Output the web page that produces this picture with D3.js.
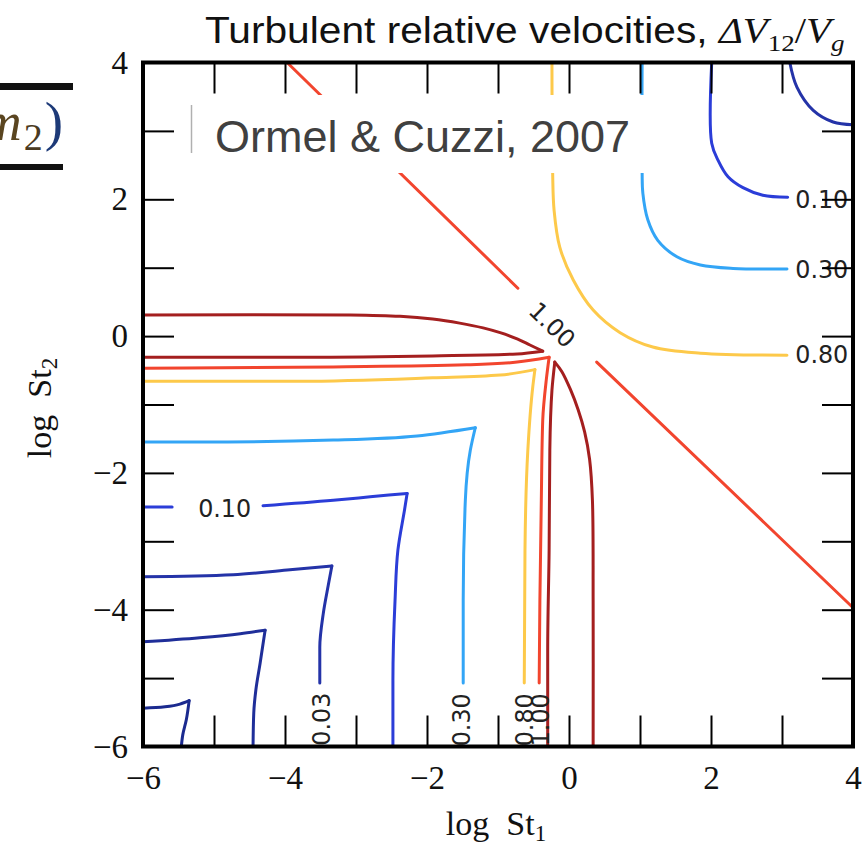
<!DOCTYPE html>
<html>
<head>
<meta charset="utf-8">
<script src="https://cdn.jsdelivr.net/npm/d3@7"></script>
<style>
  body { margin: 0; background: #fff; }
  svg { display: block; }
</style>
</head>
<body>
<script>
// ---- contour levels (dark red one is unlabeled in the figure) ----
const levels = [0.003, 0.01, 0.03, 0.10, 0.30, 0.80, 1.00, 1.20];

// ---- lower-left nested contours: horizontal arm and vertical arm, [log St1, log St2] ----
const c0003_h = [[-6.00, -5.44], [-5.69, -5.42], [-5.48, -5.38], [-5.35, -5.33]];
const c0003_v = [[-5.35, -5.33], [-5.39, -5.61], [-5.44, -5.83], [-5.46, -6.00]];
const c001_h = [[-6.00, -4.47], [-5.20, -4.41], [-4.63, -4.35], [-4.28, -4.30]];
const c001_v = [[-4.28, -4.30], [-4.35, -4.78], [-4.41, -5.17], [-4.44, -5.51], [-4.45, -6.00]];
const c003_h = [[-6.00, -3.52], [-4.73, -3.49], [-3.97, -3.42], [-3.34, -3.36]];
const c003_v = [[-3.34, -3.36], [-3.39, -3.64], [-3.46, -4.05], [-3.51, -4.55], [-3.51, -5.07]];
const c010_h = [[-6.00, -2.50], [-5.59, -2.50], null, [-4.31, -2.48], [-3.32, -2.40], [-2.80, -2.35], [-2.28, -2.30]];
const c010_v = [[-2.28, -2.30], [-2.31, -2.50], [-2.41, -3.13], [-2.45, -3.86], [-2.48, -5.03], [-2.48, -6.00]];
const c030_h = [[-6.00, -1.55], [-5.20, -1.55], [-3.32, -1.52], [-2.14, -1.46], [-1.32, -1.34]];
const c030_v = [[-1.32, -1.34], [-1.39, -1.67], [-1.46, -2.40], [-1.49, -3.86], [-1.49, -5.07]];
const c080_h = [[-6.00, -0.66], [-3.79, -0.66], [-1.92, -0.61], [-0.97, -0.57], [-0.48, -0.49]];
const c080_v = [[-0.48, -0.49], [-0.51, -0.74], [-0.58, -1.67], [-0.62, -3.13], [-0.63, -5.07]];
const c100_h = [[-6.00, -0.47], [-3.32, -0.45], [-1.44, -0.42], [-0.73, -0.38], [-0.28, -0.31]];
const c100_v = [[-0.28, -0.31], [-0.32, -0.64], [-0.37, -1.23], [-0.39, -2.40], [-0.41, -3.86], [-0.42, -5.07]];

// dark red lens shapes near St ~ 1
const c120_top = [[-6.00, 0.31], [-3.08, 0.31], [-2.38, 0.29], [-1.92, 0.25], [-1.54, 0.19], [-1.21, 0.12], [-0.97, 0.05], [-0.73, -0.04], [-0.55, -0.13], [-0.37, -0.22]];
const c120_bot = [[-6.00, -0.31], [-3.79, -0.31], [-1.92, -0.29], [-0.73, -0.26], [-0.37, -0.22]];
const c120_left = [[-0.20, -0.38], [-0.24, -0.79], [-0.27, -1.67], [-0.28, -3.13], [-0.30, -4.59], [-0.30, -6.00]];
const c120_right = [[-0.20, -0.38], [-0.10, -0.52], [0.02, -0.78], [0.13, -1.08], [0.22, -1.40], [0.29, -1.80], [0.33, -2.40], [0.34, -3.86], [0.34, -6.00]];

// diagonal 1.00 contour (split around its label)
const c100_diagA = [[-3.97, 4.00], [-0.72, 0.70]];
const c100_diagB = [[0.39, -0.38], [3.99, -3.96]];

// upper-right contours
const c003_ur = [[3.11, 4.00], [3.21, 3.64], [3.44, 3.30], [3.72, 3.13], [4.00, 3.09]];
const c010_ur = [[2.01, 4.00], [2.01, 2.82], [2.10, 2.57], [2.24, 2.33], [2.45, 2.17], [2.73, 2.06], [3.08, 2.03]];
const c030_ur = [[1.03, 4.00], [1.03, 2.40], [1.04, 2.09], [1.11, 1.70], [1.25, 1.40], [1.52, 1.16], [1.85, 1.04], [2.31, 0.99], [3.07, 0.98]];
const c080_ur = [[-0.24, 4.00], [-0.23, 2.38], [-0.21, 1.84], [-0.13, 1.30], [0.06, 0.82], [0.34, 0.38], [0.72, 0.05], [1.18, -0.16], [1.85, -0.25], [3.07, -0.28]];

// inline contour labels: text, log St1, log St2, angle
const labelTexts = ["0.10", "0.03", "0.30", "0.80", "1.00", "1.00", "0.10", "0.30", "0.80"];
const labelX = [-4.85, -3.48, -1.51, -0.62, -0.40, -0.24, 3.56, 3.56, 3.56];
const labelY = [-2.53, -5.60, -5.61, -5.61, -5.61, 0.16, 1.99, 0.97, -0.28];
const labelAngle = [0, -90, -90, -90, -90, 44, 0, 0, 0];

// axis ticks
const tickValues = [-6, -5, -4, -3, -2, -1, 0, 1, 2, 3, 4];
const tickLabels = ["−6", "", "−4", "", "−2", "", "0", "", "2", "", "4"];

const svgWidth = 865;
const svgHeight = 845;
const margin = {top: 62.5, right: 12, bottom: 98.5, left: 143};
const chartWidth = svgWidth - margin.left - margin.right;   // 710
const chartHeight = svgHeight - margin.top - margin.bottom; // 684
const TICK = 31;

window.onload = main;

function main() {
    render_chart();
}

function render_chart() {
    const svg = d3.select("body").append("svg")
        .attr("width", svgWidth)
        .attr("height", svgHeight);

    drawFragment(svg);

    const gContainer = svg.append("g")
        .attr("transform", `translate(${margin.left}, ${margin.top})`);

    const scaleX = d3.scaleLinear().domain([-6, 4]).range([0, chartWidth]);
    const scaleY = d3.scaleLinear().domain([-6, 4]).range([chartHeight, 0]);

    const color = d3.scaleOrdinal()
        .domain(levels)
        .range(["#1b2a8f", "#1f2e99", "#2433a8", "#2b3dd8", "#33a5f6", "#fdc94a", "#f2452e", "#a41f1f"]);

    const smooth = d3.curveCatmullRom.alpha(0.5);
    const contourTable = [
        {level: 1.20, pts: c120_top, curve: smooth},
        {level: 1.20, pts: c120_bot, curve: d3.curveMonotoneX},
        {level: 1.20, pts: c120_left, curve: d3.curveMonotoneY},
        {level: 1.20, pts: c120_right, curve: smooth},
        {level: 0.003, pts: c0003_h, curve: d3.curveMonotoneX},
        {level: 0.003, pts: c0003_v, curve: d3.curveMonotoneY},
        {level: 0.01, pts: c001_h, curve: d3.curveMonotoneX},
        {level: 0.01, pts: c001_v, curve: d3.curveMonotoneY},
        {level: 0.03, pts: c003_h, curve: d3.curveMonotoneX},
        {level: 0.03, pts: c003_v, curve: d3.curveMonotoneY},
        {level: 0.10, pts: c010_h, curve: d3.curveMonotoneX},
        {level: 0.10, pts: c010_v, curve: d3.curveMonotoneY},
        {level: 0.30, pts: c030_h, curve: d3.curveMonotoneX},
        {level: 0.30, pts: c030_v, curve: d3.curveMonotoneY},
        {level: 0.80, pts: c080_h, curve: d3.curveMonotoneX},
        {level: 0.80, pts: c080_v, curve: d3.curveMonotoneY},
        {level: 1.00, pts: c100_h, curve: d3.curveMonotoneX},
        {level: 1.00, pts: c100_v, curve: d3.curveMonotoneY},
        {level: 1.00, pts: c100_diagA, curve: d3.curveLinear},
        {level: 1.00, pts: c100_diagB, curve: d3.curveLinear},
        {level: 0.03, pts: c003_ur, curve: smooth},
        {level: 0.10, pts: c010_ur, curve: smooth},
        {level: 0.30, pts: c030_ur, curve: smooth},
        {level: 0.80, pts: c080_ur, curve: smooth}
    ];

    gContainer.selectAll("path.contour")
        .data(contourTable)
        .join("path")
        .attr("class", "contour")
        .attr("fill", "none")
        .attr("stroke", d => color(d.level))
        .attr("stroke-width", 3)
        .attr("stroke-linecap", "round")
        .attr("d", d => d3.line()
            .defined(p => p)
            .x(p => scaleX(p[0]))
            .y(p => scaleY(p[1]))
            .curve(d.curve)(d.pts));

    // inline labels
    gContainer.selectAll("text.clabel")
        .data(labelTexts)
        .join("text")
        .attr("class", "clabel")
        .attr("transform", (d, i) => `translate(${scaleX(labelX[i])},${scaleY(labelY[i])}) rotate(${labelAngle[i]})`)
        .attr("text-anchor", "middle")
        .attr("dominant-baseline", "central")
        .attr("font-family", "DejaVu Sans")
        .attr("font-size", 24)
        .attr("textLength", 53)
        .attr("lengthAdjust", "spacingAndGlyphs")
        .attr("fill", "#222")
        .text(d => d);

    // white note box pasted over the plot
    const box = svg.append("g");
    box.append("rect")
        .attr("x", 190).attr("y", 95)
        .attr("width", 460).attr("height", 78)
        .attr("fill", "#fff");
    box.append("line")
        .attr("x1", 191.5).attr("x2", 191.5)
        .attr("y1", 105).attr("y2", 153)
        .attr("stroke", "#b0b0b0").attr("stroke-width", 1.5);
    box.append("text")
        .attr("x", 215).attr("y", 152)
        .attr("font-family", "Liberation Sans, Arial, sans-serif")
        .attr("font-size", 45)
        .attr("fill", "#404040")
        .text("Ormel & Cuzzi, 2007");

    drawAxes(gContainer, scaleX, scaleY);

    // frame
    gContainer.append("rect")
        .attr("width", chartWidth)
        .attr("height", chartHeight)
        .attr("fill", "none")
        .attr("stroke", "#000")
        .attr("stroke-width", 4);

    // title
    const title = svg.append("text")
        .attr("transform", "translate(205,43) scale(1.13,1)")
        .attr("font-family", "Liberation Sans, Arial, sans-serif")
        .attr("font-size", 36)
        .attr("fill", "#111");
    title.append("tspan").text("Turbulent relative velocities, ");
    title.append("tspan").attr("font-family", "Liberation Serif").attr("font-style", "italic").text("ΔV");
    title.append("tspan").attr("font-family", "Liberation Serif").attr("font-size", 24).attr("dy", 8).text("12");
    title.append("tspan").attr("font-family", "Liberation Serif").attr("dy", -8).text("/");
    title.append("tspan").attr("font-family", "Liberation Serif").attr("font-style", "italic").text("V");
    title.append("tspan").attr("font-family", "Liberation Serif").attr("font-style", "italic").attr("font-size", 24).attr("dy", 8).text("g");

    // axis titles
    const xt = svg.append("text")
        .attr("x", 496).attr("y", 835)
        .attr("text-anchor", "middle")
        .attr("font-family", "Liberation Serif, serif")
        .attr("font-size", 34)
        .attr("fill", "#111");
    xt.append("tspan").text("log\u00a0\u00a0St");
    xt.append("tspan").attr("font-size", 23).attr("dy", 6).text("1");

    const yt = svg.append("text")
        .attr("transform", "translate(51,408) rotate(-90)")
        .attr("text-anchor", "middle")
        .attr("font-family", "Liberation Serif, serif")
        .attr("font-size", 34)
        .attr("fill", "#111");
    yt.append("tspan").text("log\u00a0\u00a0St");
    yt.append("tspan").attr("font-size", 23).attr("dy", 6).text("2");
}

function drawAxes(gContainer, scaleX, scaleY) {
    const fmt = (d, i) => tickLabels[i];

    const bottom = gContainer.append("g")
        .attr("transform", `translate(0,${chartHeight})`)
        .call(d3.axisBottom(scaleX).tickValues(tickValues).tickFormat(fmt)
            .tickSizeInner(-TICK).tickSizeOuter(0).tickPadding(19));
    const left = gContainer.append("g")
        .call(d3.axisLeft(scaleY).tickValues(tickValues).tickFormat(fmt)
            .tickSizeInner(-TICK).tickSizeOuter(0).tickPadding(15));
    const top = gContainer.append("g")
        .call(d3.axisTop(scaleX).tickValues(tickValues).tickFormat("")
            .tickSizeInner(-TICK).tickSizeOuter(0));
    const right = gContainer.append("g")
        .attr("transform", `translate(${chartWidth},0)`)
        .call(d3.axisRight(scaleY).tickValues(tickValues).tickFormat("")
            .tickSizeInner(-TICK).tickSizeOuter(0));

    [bottom, left, top, right].forEach(a => {
        a.select(".domain").remove();
        a.selectAll(".tick line").attr("stroke", "#000").attr("stroke-width", 2);
        a.attr("font-family", "Liberation Serif, serif").attr("font-size", 33);
        a.selectAll(".tick text").attr("fill", "#111");
    });
}

// fragment of a neighbouring slide equation at the left edge
function drawFragment(svg) {
    svg.append("rect").attr("x", 0).attr("y", 83).attr("width", 73).attr("height", 7).attr("fill", "#111");
    svg.append("rect").attr("x", 0).attr("y", 164).attr("width", 63).attr("height", 6).attr("fill", "#111");
    const t = svg.append("text")
        .attr("x", -18).attr("y", 140)
        .attr("font-family", "Liberation Serif, serif")
        .attr("font-size", 55);
    t.append("tspan").attr("font-style", "italic").attr("fill", "#5a4520").text("m");
    t.append("tspan").attr("font-size", 38).attr("dx", 2).attr("dy", 10).attr("fill", "#4a3a22").text("2");
    t.append("tspan").attr("dx", 2).attr("dy", -10).attr("fill", "#1d3a78").text(")");
}
</script>
</body>
</html>
